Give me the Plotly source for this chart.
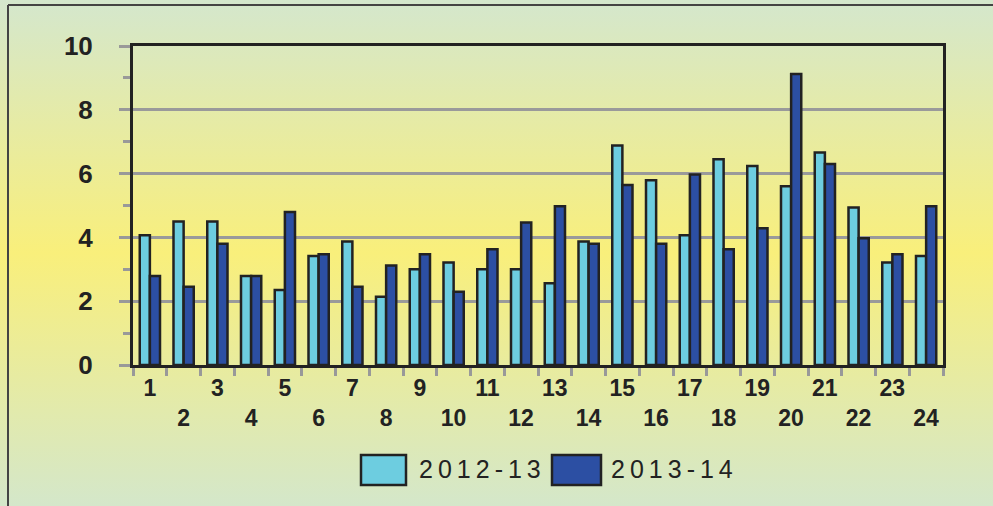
import base64
import plotly.graph_objects as go

categories = list(range(1, 25))
series_2012_13 = [4.07, 4.50, 4.50, 2.79, 2.35, 3.42, 3.87, 2.14, 3.00, 3.21, 3.00, 3.00,
                  2.56, 3.87, 6.88, 5.79, 4.07, 6.45, 6.24, 5.60, 6.66, 4.94, 3.21, 3.42]
series_2013_14 = [2.79, 2.45, 3.80, 2.79, 4.80, 3.47, 2.45, 3.12, 3.47, 2.30, 3.63, 4.47,
                  4.98, 3.80, 5.64, 3.80, 5.97, 3.63, 4.29, 9.12, 6.30, 3.97, 3.47, 4.98]
series_names = ["2012-13", "2013-14"]
tick_labels = [str(c) if c % 2 == 1 else "<br>" + str(c) for c in categories]
y_ticks = [0, 2, 4, 6, 8, 10]

LIGHT = "#6dcde0"
DARK = "#2c4fa3"
EDGE = "#222222"
FONT = "Liberation Sans, Arial, sans-serif"

fig = go.Figure()
for name, vals, col in [(series_names[0], series_2012_13, LIGHT), (series_names[1], series_2013_14, DARK)]:
    fig.add_trace(go.Bar(x=categories, y=vals, name=name, marker=dict(color=col, line=dict(color=EDGE, width=2.5)),
                         showlegend=False))

# gradient background
svg = ('<svg xmlns="http://www.w3.org/2000/svg" width="100" height="100" preserveAspectRatio="none">'
       '<defs><linearGradient id="g" x1="0" y1="0" x2="0" y2="1">'
       '<stop offset="0" stop-color="#d4e7cd"/><stop offset="0.5" stop-color="#f9ef7b"/>'
       '<stop offset="1" stop-color="#d4e7ca"/></linearGradient></defs>'
       '<rect width="100" height="100" fill="url(#g)"/></svg>')
uri = "data:image/svg+xml;base64," + base64.b64encode(svg.encode()).decode()

W, H = 993, 506
L, R, T, B = 133, 943, 46, 365
pw, ph = R - L, B - T
def px(x): return (x - L) / pw
def py(y): return (B - y) / ph

fig.add_layout_image(dict(source=uri, xref="paper", yref="paper", x=px(0), y=py(0),
                          sizex=W / pw, sizey=H / ph, sizing="stretch", layer="below",
                          xanchor="left", yanchor="top"))

shapes = [
    dict(type="line", xref="paper", yref="paper", x0=px(8), x1=px(W + 5), y0=py(5), y1=py(5),
         line=dict(color="#444", width=2)),
    dict(type="line", xref="paper", yref="paper", x0=px(8), x1=px(8), y0=py(5), y1=py(H + 5),
         line=dict(color="#444", width=2)),
    dict(type="rect", xref="paper", yref="paper", x0=px(361), x1=px(406), y0=py(485), y1=py(455),
         fillcolor=LIGHT, line=dict(color=EDGE, width=2.5)),
    dict(type="rect", xref="paper", yref="paper", x0=px(552), x1=px(601), y0=py(485), y1=py(455),
         fillcolor=DARK, line=dict(color=EDGE, width=2.5)),
]
thin = "\u2009"
annotations = [
    dict(xref="paper", yref="paper", x=px(417), y=py(469), xanchor="left", yanchor="middle",
         text=thin.join(series_names[0]), showarrow=False, font=dict(family=FONT, size=25, color="#222")),
    dict(xref="paper", yref="paper", x=px(609), y=py(469), xanchor="left", yanchor="middle",
         text=thin.join(series_names[1]), showarrow=False, font=dict(family=FONT, size=25, color="#222")),
]

fig.update_layout(
    width=W, height=H,
    margin=dict(l=L, r=W - R, t=T, b=H - B),
    paper_bgcolor="#e6eab0", plot_bgcolor="rgba(0,0,0,0)",
    barmode="group", bargap=0.4, bargroupgap=0,
    shapes=shapes, annotations=annotations,
    font=dict(family=FONT, color="#222"),
)
fig.update_xaxes(type="category", tickmode="array", tickvals=categories, ticktext=tick_labels,
                 tickson="boundaries", ticks="outside", ticklen=8, tickwidth=3, tickcolor="#999",
                 showline=True, linecolor="#222", linewidth=3, mirror=True, showgrid=False,
                 tickfont=dict(family=FONT, size=23, weight="bold", color="#222"), tickangle=0)
fig.update_yaxes(range=[0, 10], tickmode="array", tickvals=y_ticks, ticks="outside", ticklen=11,
                 tickwidth=3, tickcolor="#999", showgrid=True, gridcolor="#9a9a9a", gridwidth=2.5,
                 showline=True, linecolor="#222", linewidth=3, mirror=True, zeroline=False,
                 minor=dict(dtick=1, ticks="outside", ticklen=7, tickwidth=3, tickcolor="#999", showgrid=False),
                 ticklabelstandoff=21,
                 tickfont=dict(family=FONT, size=26, weight="bold", color="#222"))

fig.write_html("out.html", config={"displayModeBar": False},
               post_script="document.body.style.margin='0';document.body.style.overflow='hidden';")
